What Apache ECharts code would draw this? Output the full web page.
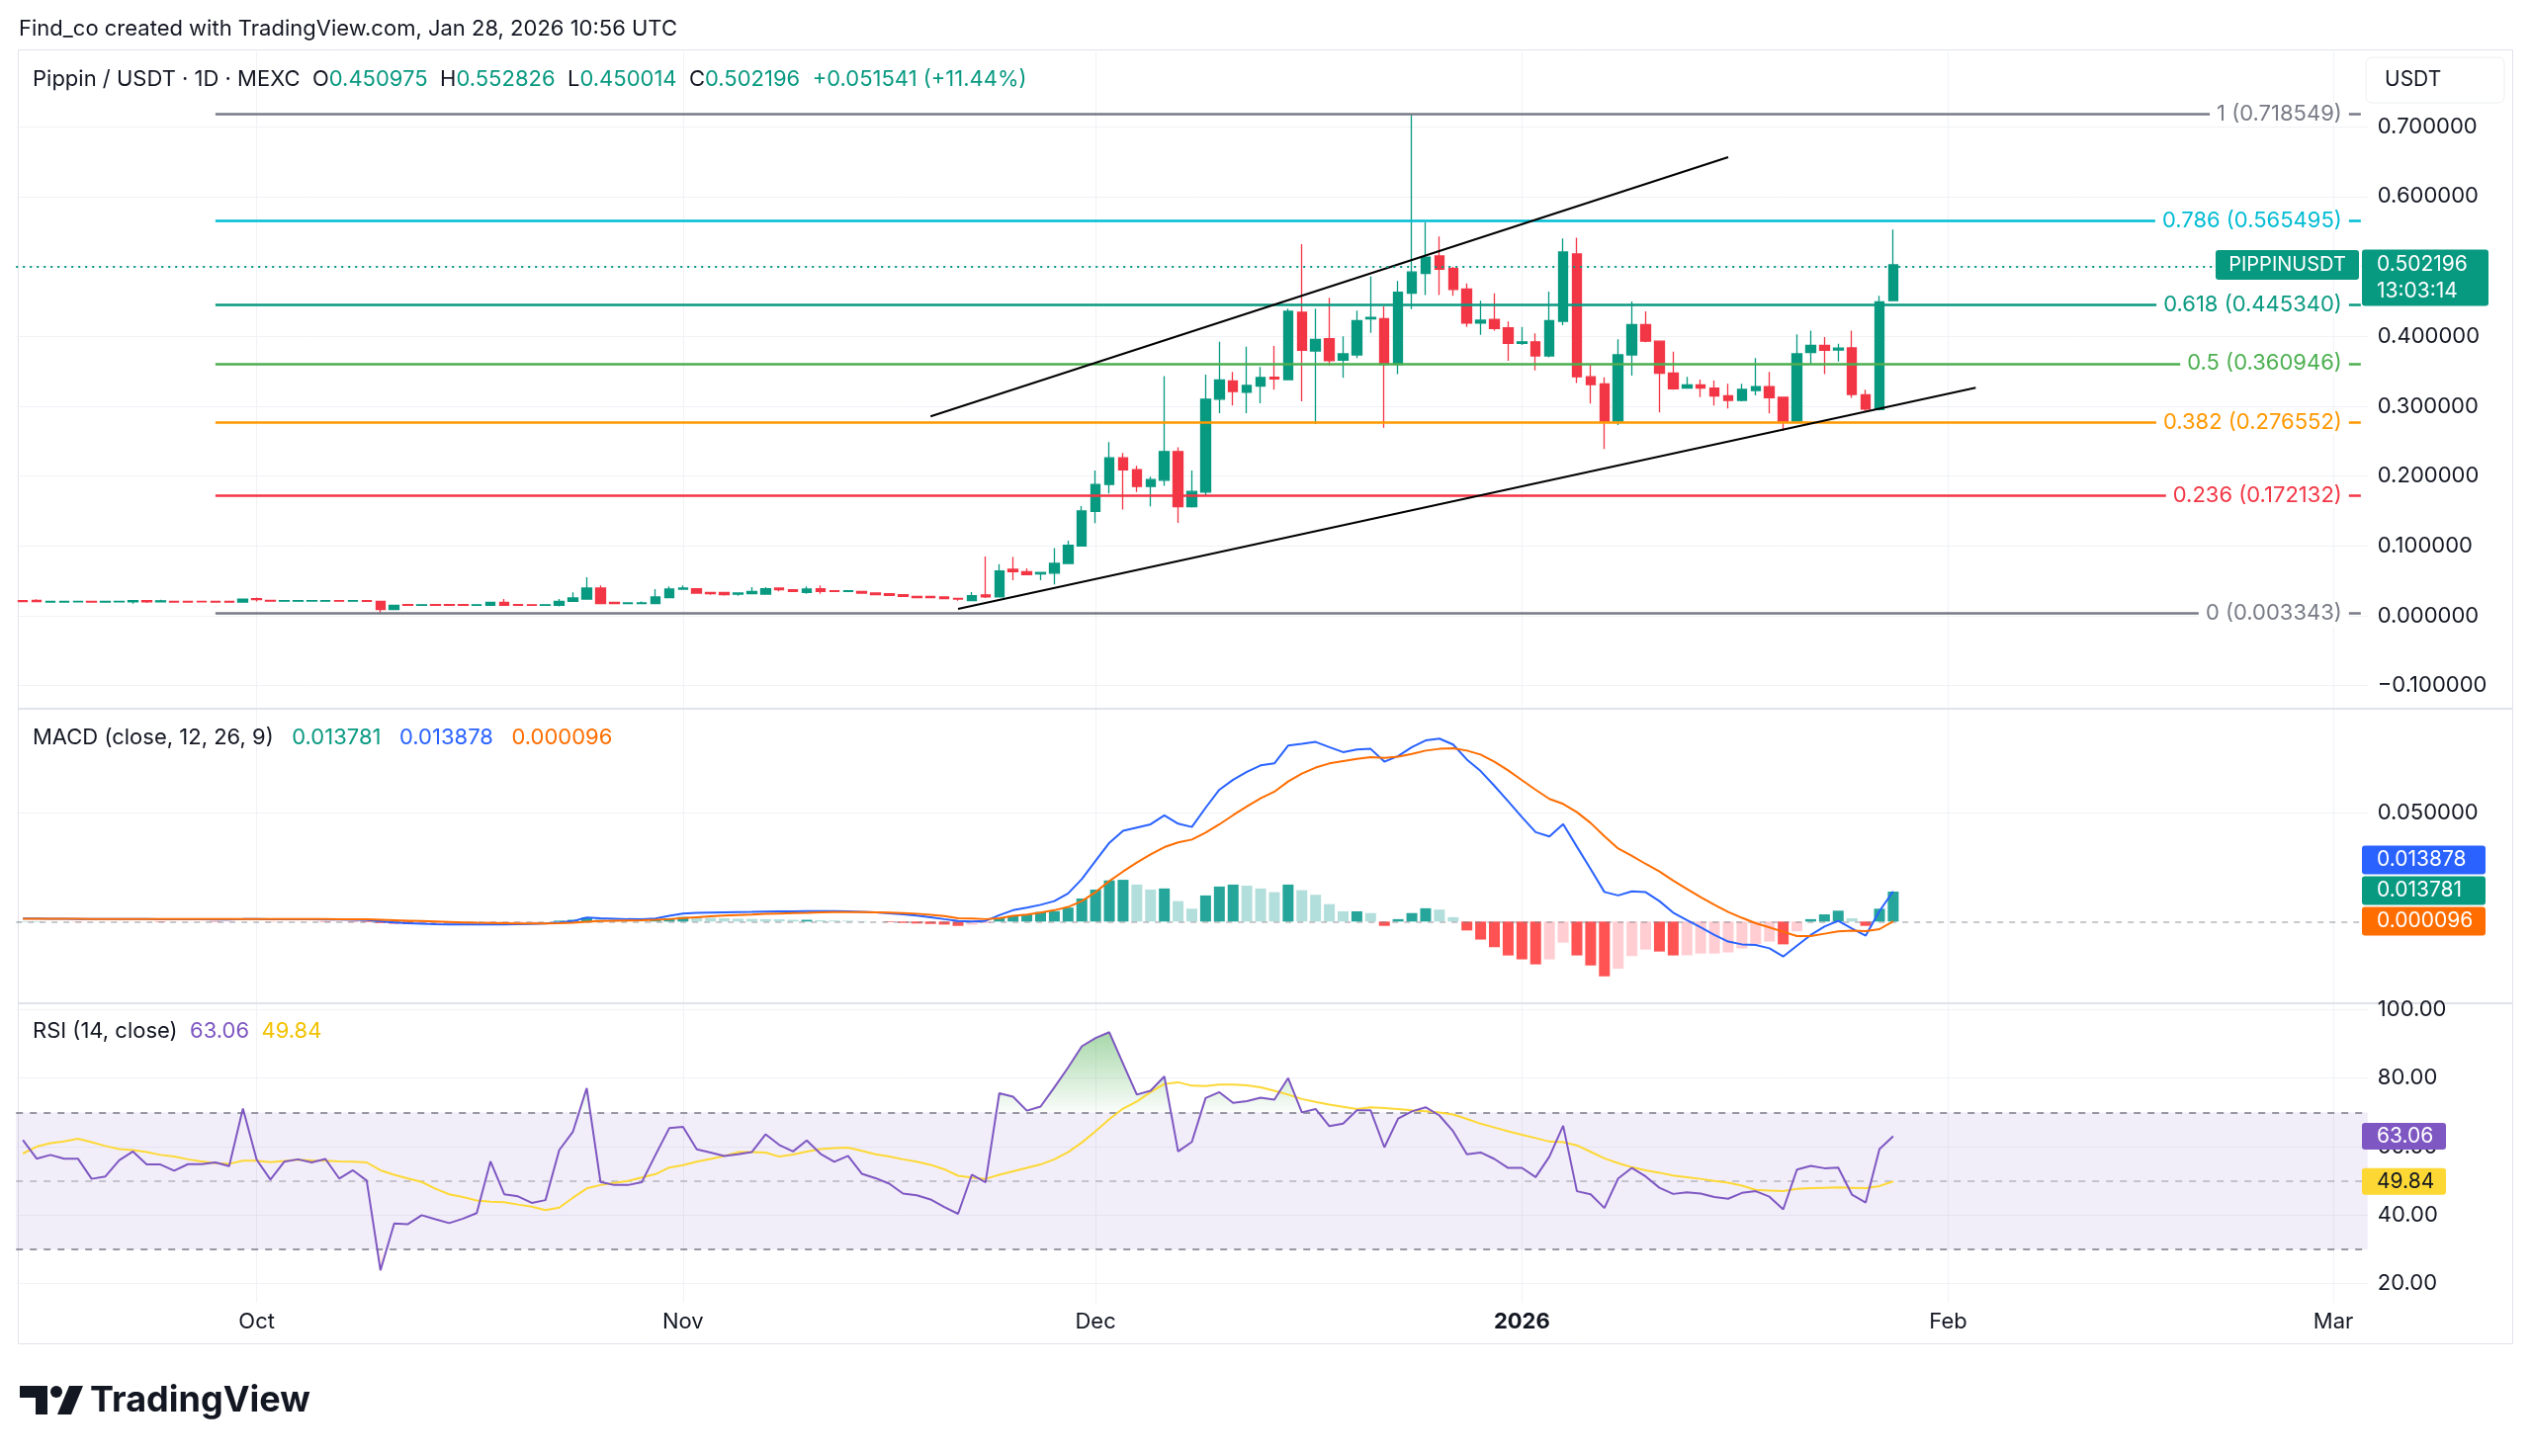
<!DOCTYPE html>
<html><head><meta charset="utf-8">
<script src="https://cdn.jsdelivr.net/npm/echarts@6/dist/echarts.min.js"></script>
<style>html,body{margin:0;padding:0;background:#fff;}#c{width:2560px;height:1473px;}</style>
</head><body><div id="c"></div>
<script>
// ---------------- DATA ----------------
const startDate = '2025-09-14';
const axisEndDate = '2026-03-03';
// daily candles [open, high, low, close] from 2025-09-14 to 2026-01-28
const candles = [
[0.0217,0.0222,0.0200,0.0205],[0.0222,0.0236,0.0200,0.0205],[0.0198,0.0210,0.0196,0.0208],[0.0198,0.0210,0.0196,0.0208],
[0.0199,0.0210,0.0197,0.0207],[0.0208,0.0210,0.0196,0.0198],[0.0198,0.0209,0.0196,0.0207],[0.0199,0.0209,0.0197,0.0208],
[0.0200,0.0222,0.0174,0.0217],[0.0217,0.0222,0.0184,0.0200],[0.0200,0.0231,0.0198,0.0214],[0.0208,0.0210,0.0196,0.0198],
[0.0207,0.0209,0.0196,0.0198],[0.0208,0.0210,0.0196,0.0199],[0.0207,0.0209,0.0197,0.0198],[0.0205,0.0208,0.0193,0.0195],
[0.0195,0.0245,0.0193,0.0240],// Sep30
[0.0245,0.0260,0.0205,0.0231],[0.0220,0.0224,0.0208,0.0210],[0.0210,0.0220,0.0207,0.0217],[0.0210,0.0219,0.0208,0.0217],
[0.0211,0.0220,0.0208,0.0218],[0.0210,0.0219,0.0207,0.0217],[0.0218,0.0220,0.0208,0.0210],[0.0210,0.0220,0.0208,0.0217],
[0.0217,0.0219,0.0206,0.0208],[0.0208,0.0213,0.0030,0.0090],[0.0090,0.0155,0.0085,0.0151],[0.0160,0.0163,0.0149,0.0151],
[0.0151,0.0160,0.0149,0.0158],[0.0160,0.0162,0.0149,0.0151],[0.0160,0.0161,0.0150,0.0152],[0.0159,0.0161,0.0149,0.0151],
[0.0151,0.0160,0.0150,0.0158],[0.0151,0.0196,0.0140,0.0193],[0.0193,0.0240,0.0149,0.0151],[0.0160,0.0165,0.0150,0.0151],
[0.0158,0.0160,0.0149,0.0151],[0.0151,0.0160,0.0140,0.0158],[0.0150,0.0240,0.0135,0.0208],[0.0208,0.0335,0.0205,0.0255],
[0.0240,0.0550,0.0238,0.0396],[0.0396,0.0434,0.0165,0.0174],[0.0193,0.0196,0.0168,0.0174],[0.0174,0.0186,0.0172,0.0184],
[0.0174,0.0205,0.0172,0.0184],[0.0174,0.0382,0.0172,0.0269],[0.0260,0.0420,0.0258,0.0382],// Oct31
[0.0382,0.0434,0.0372,0.0396],[0.0387,0.0396,0.0320,0.0325],[0.0335,0.0338,0.0300,0.0316],[0.0335,0.0338,0.0290,0.0302],
[0.0310,0.0330,0.0288,0.0325],[0.0316,0.0410,0.0314,0.0349],[0.0310,0.0410,0.0308,0.0387],[0.0396,0.0400,0.0349,0.0372],
[0.0372,0.0375,0.0345,0.0349],[0.0335,0.0420,0.0316,0.0382],[0.0387,0.0434,0.0316,0.0349],[0.0358,0.0362,0.0345,0.0349],
[0.0349,0.0362,0.0346,0.0358],[0.0349,0.0352,0.0322,0.0325],[0.0325,0.0328,0.0300,0.0302],[0.0316,0.0318,0.0290,0.0293],
[0.0302,0.0305,0.0276,0.0278],[0.0278,0.0280,0.0258,0.0260],[0.0278,0.0280,0.0258,0.0260],[0.0269,0.0271,0.0243,0.0245],
[0.0250,0.0255,0.0217,0.0240],[0.0217,0.0340,0.0215,0.0288],[0.0300,0.0850,0.0255,0.0270],[0.0270,0.0740,0.0260,0.0640],
[0.0665,0.0840,0.0510,0.0630],[0.0630,0.0680,0.0580,0.0590],[0.0600,0.0630,0.0510,0.0620],[0.0610,0.0970,0.0450,0.0750],
[0.0750,0.1075,0.0740,0.1010],[0.1000,0.1570,0.0990,0.1500],// Nov30
[0.1495,0.2080,0.1325,0.1880],[0.1880,0.2485,0.1750,0.2260],[0.2260,0.2330,0.1520,0.2090],[0.2090,0.2145,0.1770,0.1850],
[0.1850,0.1990,0.1565,0.1950],[0.1940,0.3430,0.1860,0.2350],[0.2350,0.2410,0.1330,0.1560],[0.1560,0.2080,0.1550,0.1780],
[0.1770,0.3450,0.1716,0.3100],[0.3100,0.3920,0.2900,0.3376],[0.3360,0.3490,0.3010,0.3210],[0.3200,0.3850,0.2900,0.3296],
[0.3286,0.3560,0.3040,0.3410],[0.3414,0.3860,0.3235,0.3390],[0.3380,0.4394,0.3370,0.4357],[0.4342,0.5320,0.3070,0.3800],
[0.3790,0.4394,0.2744,0.3956],[0.3965,0.4550,0.3580,0.3650],[0.3660,0.4000,0.3404,0.3750],[0.3734,0.4366,0.3687,0.4225],
[0.4248,0.4860,0.4050,0.4270],[0.4253,0.4427,0.2690,0.3600],[0.3600,0.4790,0.3460,0.4630],[0.4616,0.7185,0.4390,0.4920],
[0.4900,0.5630,0.4590,0.5134],[0.5150,0.5427,0.4590,0.4960],[0.4970,0.4993,0.4580,0.4670],[0.4677,0.4757,0.4135,0.4190],
[0.4190,0.4510,0.4020,0.4230],[0.4240,0.4616,0.4080,0.4110],[0.4120,0.4210,0.3650,0.3900],// Dec31
[0.3900,0.4135,0.3876,0.3920],[0.3920,0.4040,0.3510,0.3720],[0.3720,0.4640,0.3697,0.4225],[0.4215,0.5400,0.4160,0.5205],
[0.5177,0.5410,0.3330,0.3420],[0.3420,0.3600,0.3036,0.3310],[0.3320,0.3414,0.2386,0.2786],[0.2786,0.3956,0.2730,0.3734],
[0.3734,0.4498,0.3437,0.4168],[0.4168,0.4357,0.3915,0.3930],[0.3930,0.3940,0.2910,0.3470],[0.3475,0.3780,0.3235,0.3250],
[0.3260,0.3420,0.3250,0.3305],[0.3305,0.3380,0.3130,0.3260],[0.3258,0.3366,0.3010,0.3145],[0.3150,0.3320,0.2966,0.3083],
[0.3083,0.3320,0.3070,0.3240],[0.3225,0.3687,0.3154,0.3280],[0.3280,0.3490,0.2895,0.3120],[0.3126,0.3126,0.2645,0.2786],
[0.2786,0.4027,0.2777,0.3750],[0.3767,0.4080,0.3600,0.3870],[0.3870,0.3990,0.3460,0.3800],[0.3805,0.3894,0.3640,0.3830],
[0.3833,0.4080,0.3120,0.3168],[0.3164,0.3235,0.2930,0.2960],[0.2950,0.4578,0.2937,0.4494],[0.450975,0.552826,0.450014,0.502196]
];
const macdLine = [
0.0014,0.0014,0.0013,0.0013,0.0012,0.0011,0.0011,0.0011,0.0011,0.0011,0.0010,0.0010,0.0010,0.0010,0.0009,0.0009,0.0011,
0.0011,0.0010,0.0010,0.0010,0.0010,0.0009,0.0009,0.0008,0.0007,0.0001,
-0.0004,-0.0008,-0.0010,-0.0012,-0.0013,-0.0014,-0.0014,-0.0013,-0.0013,-0.0012,
-0.0011,-0.0009,-0.0004,0.0002,0.0018,0.0015,0.0013,0.0011,0.0010,0.0014,
0.0026,0.0037,0.0040,0.0041,0.0042,0.0043,0.0044,0.0046,0.0047,0.0047,
0.0048,0.0048,0.0048,0.0047,0.0045,0.0042,0.0038,0.0033,0.0027,0.0020,0.0011,
0.0003,0.0000,0.0003,0.0029,0.0052,0.0064,0.0077,0.0094,0.0129,0.0195,
0.0279,0.0362,0.0417,0.0432,0.0447,0.0488,0.0450,0.0435,0.0523,0.0606,
0.0652,0.0688,0.0718,0.0727,0.0809,0.0817,0.0826,0.0802,0.0779,0.0791,
0.0794,0.0735,0.0761,0.0802,0.0833,0.0841,0.0814,0.0745,0.0692,0.0624,
0.0553,0.0480,0.0411,0.0391,0.0448,0.0344,0.0241,0.0136,0.0120,0.0139,
0.0135,0.0094,0.0041,0.0006,-0.0027,-0.0062,-0.0092,-0.0105,-0.0108,-0.0123,
-0.0161,-0.0111,-0.0062,-0.0023,0.0003,-0.0032,-0.0065,0.0048,0.013878
];
const signalLine = [
0.0013,0.0013,0.0013,0.0013,0.0013,0.0012,0.0012,0.0012,0.0012,0.0012,0.0012,0.0011,0.0011,0.0011,0.0011,0.0011,0.0011,
0.0011,0.0011,0.0011,0.0011,0.0011,0.0011,0.0010,0.0010,0.0010,0.0008,
0.0006,0.0004,0.0002,0.0000,-0.0002,-0.0004,-0.0006,-0.0007,-0.0008,-0.0009,
-0.0009,-0.0009,-0.0008,-0.0006,-0.0001,0.0002,0.0004,0.0005,0.0006,0.0008,
0.0011,0.0016,0.0020,0.0024,0.0027,0.0030,0.0032,0.0035,0.0037,0.0039,
0.0040,0.0042,0.0043,0.0043,0.0043,0.0042,0.0041,0.0039,0.0036,0.0031,0.0025,
0.0015,0.0014,0.0011,0.0015,0.0026,0.0032,0.0041,0.0052,0.0067,0.0094,
0.0135,0.0186,0.0230,0.0271,0.0309,0.0342,0.0364,0.0377,0.0409,0.0447,
0.0489,0.0529,0.0567,0.0597,0.0644,0.0680,0.0708,0.0727,0.0738,0.0748,
0.0756,0.0753,0.0758,0.0771,0.0786,0.0794,0.0797,0.0786,0.0768,0.0735,
0.0695,0.0650,0.0606,0.0564,0.0541,0.0503,0.0453,0.0392,0.0336,0.0302,
0.0265,0.0230,0.0188,0.0150,0.0112,0.0077,0.0044,0.0017,-0.0008,-0.0027,
-0.0047,-0.0067,-0.0067,-0.0056,-0.0045,-0.0042,-0.0044,-0.0035,0.000096
];
const histogram = [
0.0001,0.0001,0.0000,0.0000,-0.0001,-0.0001,-0.0001,-0.0001,-0.0001,-0.0001,-0.0002,-0.0001,-0.0001,-0.0001,-0.0002,-0.0002,0.0000,
0.0000,-0.0001,-0.0001,-0.0001,-0.0001,-0.0002,-0.0001,-0.0002,-0.0003,-0.0007,
-0.0010,-0.0012,-0.0012,-0.0012,-0.0011,-0.0010,-0.0008,-0.0006,-0.0005,-0.0003,
-0.0002,0.0000,0.0004,0.0008,0.0019,0.0013,0.0009,0.0006,0.0004,0.0006,
0.0015,0.0021,0.0020,0.0017,0.0015,0.0013,0.0012,0.0011,0.0010,0.0008,
0.0008,0.0006,0.0005,0.0004,0.0002,0.0000,-0.0003,-0.0006,-0.0009,-0.0011,-0.0014,
-0.0020,-0.0015,-0.0008,0.0015,0.0026,0.0033,0.0044,0.0048,0.0064,0.0106,
0.0147,0.0189,0.0192,0.0170,0.0147,0.0152,0.0094,0.0059,0.0120,0.0161,
0.0170,0.0165,0.0152,0.0135,0.0170,0.0144,0.0123,0.0080,0.0047,0.0047,
0.0039,-0.0020,0.0011,0.0039,0.0061,0.0055,0.0020,-0.0041,-0.0083,-0.0118,
-0.0156,-0.0174,-0.0197,-0.0174,-0.0097,-0.0156,-0.0202,-0.0252,-0.0217,-0.0159,
-0.0129,-0.0138,-0.0156,-0.0155,-0.0147,-0.0147,-0.0142,-0.0124,-0.0103,-0.0092,
-0.0105,-0.0045,0.0011,0.0033,0.0050,0.0015,-0.0020,0.0059,0.013781
];
const rsiLine = [
61.9,56.5,57.6,56.5,56.5,50.6,51.3,56.0,58.6,54.8,54.8,53.0,54.9,54.9,55.4,54.3,71.1,
56.2,50.4,55.6,56.3,55.4,56.4,50.7,53.1,50.1,23.9,
37.6,37.4,40.0,38.8,37.7,39.0,40.6,55.7,46.1,45.5,
43.6,44.4,59.0,64.4,77.1,49.7,48.8,48.8,49.6,57.6,
65.4,65.8,59.2,58.3,57.3,57.8,58.4,63.6,60.5,58.6,
61.8,57.9,55.6,57.3,52.1,50.8,49.2,46.3,45.8,44.6,42.4,
40.4,51.8,49.6,75.6,74.6,70.5,71.7,77.3,83.1,89.3,
91.7,93.4,84.2,75.2,76.3,80.5,58.6,61.4,74.2,75.9,
72.8,73.3,74.3,73.7,80.0,70.0,71.0,66.0,66.7,70.6,
70.6,59.8,68.2,70.3,71.5,69.1,64.5,57.8,58.3,56.4,
53.8,53.8,51.1,57.1,66.1,47.0,46.1,42.1,50.7,53.8,
51.3,48.0,46.2,46.7,46.3,45.3,44.8,46.5,47.0,45.4,
41.7,53.3,54.4,53.7,53.9,46.0,43.7,59.3,63.06
];
const rsiMA = [
58.0,60.0,61.0,61.5,62.3,61.3,60.2,59.3,59.0,58.4,57.6,57.1,56.3,55.7,55.2,55.0,55.9,
55.9,55.5,55.8,56.2,56.0,55.9,55.7,55.6,55.4,53.1,
51.8,50.7,49.7,47.7,46.1,45.3,44.3,43.9,43.8,43.1,
42.5,41.5,42.2,45.1,47.8,48.8,49.4,50.0,51.0,52.0,
53.9,54.6,55.6,56.4,57.3,58.4,58.4,58.3,57.1,57.7,
58.6,59.3,59.6,59.7,58.8,57.8,57.1,56.3,55.6,54.7,53.4,
51.5,51.0,50.6,51.8,52.8,53.8,54.8,56.3,58.4,61.2,
64.5,68.0,71.1,73.2,75.9,78.3,78.8,77.8,77.7,78.1,
78.1,77.9,77.3,76.3,75.2,73.9,73.1,72.3,71.6,71.0,
71.5,71.3,71.0,70.6,70.3,70.0,69.4,68.1,66.7,65.6,
64.5,63.5,62.5,61.5,61.3,60.4,58.5,56.6,55.2,54.0,
53.1,52.4,51.6,51.1,50.6,50.0,49.5,48.6,47.4,47.2,
47.0,47.7,47.9,48.0,48.1,48.0,47.9,48.5,49.84
];
const priceTicks = [-0.1,0,0.1,0.2,0.3,0.4,0.5,0.6,0.7];
const macdTicks = [0.05];
const rsiTicks = [20,40,60,80,100];
const monthStarts = ['2025-10-01','2025-11-01','2025-12-01','2026-01-01','2026-02-01','2026-03-01'];
const monthLabels = ['Oct','Nov','Dec','2026','Feb','Mar'];
const fibRatios = ['1','0.786','0.618','0.5','0.382','0.236','0'];
const fibPrices = [0.718549,0.565495,0.445340,0.360946,0.276552,0.172132,0.003343];
const fibStart = '2025-09-28';
const upperChannel = [['2025-11-19',0.2853],['2026-01-16',0.6563]];
const lowerChannel = [['2025-11-21',0.0100],['2026-02-03',0.3263]];
const priceChange = '+0.051541 (+11.44%)';
const countdown = '13:03:14';

// ---------------- STYLE ----------------
const FONT = 'Inter, "Noto Sans", Roboto, sans-serif';
const TXT = '#131722';
const UP = '#089981', DOWN = '#f23645';
const GRIDC = '#f0f2f6';
const fibColors = ['#787b86','#00bcd4','#089981','#4caf50','#ff9800','#f23645','#787b86'];
const GL = 16.2, GW = 2378.6;
const HF = 22;

const dates = (function(){const out=[];let t=Date.parse(startDate+'T00:00:00Z');const e=Date.parse(axisEndDate+'T00:00:00Z');while(t<=e){out.push(new Date(t).toISOString().slice(0,10));t+=86400000;}return out;})();
const lastCat = dates[dates.length-1];
const last = candles[candles.length-1];
const lastClose = last[3];

const fmt6 = v => (v<0?'\u2212':'') + Math.abs(v).toFixed(6);
const rs = c => ({fontSize:HF, color:c, fontFamily:FONT, fontWeight:'normal', lineHeight:26});
const SP2 = '  ', SP3 = '   ';

function gridLines(ticks){
  return {silent:true, symbol:['none','none'], z:0.5, label:{show:false},
    lineStyle:{color:GRIDC, width:1, type:'solid'},
    data: ticks.map(v=>({yAxis:v})).concat(monthStarts.map(s=>({xAxis:s})))};
}
function xAx(i, showLabel){
  return {type:'category', gridIndex:i, data:dates, boundaryGap:true,
    axisLine:{show:false}, axisTick:{show:false}, splitLine:{show:false},
    axisLabel: showLabel ? {show:true, interval:(idx,val)=>monthStarts.indexOf(val)>=0,
      formatter:(val)=>{const k=monthStarts.indexOf(val);return k===3?'{b|'+monthLabels[k]+'}':monthLabels[k];},
      color:TXT, fontSize:22, fontFamily:FONT, margin:8, rich:{b:{fontWeight:'bold',fontSize:22,color:TXT,fontFamily:FONT}}} : {show:false}};
}
function yAx(i, min, max, ticks, f){
  return {type:'value', gridIndex:i, position:'right', min:min, max:max, scale:false,
    axisLine:{show:false}, axisTick:{show:false}, splitLine:{show:false},
    axisLabel:{show:true, customValues:ticks, formatter:f, color:TXT, fontSize:22, fontFamily:FONT, margin:10, align:'left'}};
}

const histData = histogram.map((v,i)=>{
  const p = i>0?histogram[i-1]:v;
  let c;
  if(v>=0) c = v>=p ? '#26a69a' : '#b2dfdb';
  else c = v<p ? '#ff5252' : '#ffcdd2';
  return {value:v, itemStyle:{color:c}};
});

const fibMarks = fibPrices.map((p,i)=>[
  {coord:[fibStart,p], lineStyle:{color:fibColors[i], width:2.5, type:'solid'},
   label:{show:true, position:'insideEnd', distance:12, formatter:fibRatios[i]+' ('+p.toFixed(6)+')',
     color:fibColors[i], fontSize:22, fontFamily:FONT, backgroundColor:'#ffffff', padding:[1,7]}},
  {coord:[lastCat,p]}
]);
const channelMarks = [upperChannel, lowerChannel].map(ch=>[
  {coord:ch[0], lineStyle:{color:'#000000', width:2, type:'solid'}, label:{show:false}},
  {coord:ch[1]}
]);

const option = {
  animation:false,
  backgroundColor:'#ffffff',
  textStyle:{fontFamily:FONT},
  title:[
    {text:'Find_co created with TradingView.com, Jan 28, 2026 10:56 UTC', left:19, top:16, padding:0,
     textStyle:{fontSize:HF, fontWeight:'normal', color:TXT, fontFamily:FONT, lineHeight:26}},
    {text:'{n|Pippin / USDT · 1D · MEXC}'+SP2+'{n|O}{v|'+last[0].toFixed(6)+'}'+SP2+'{n|H}{v|'+last[1].toFixed(6)+'}'+SP2+'{n|L}{v|'+last[2].toFixed(6)+'}'+SP2+'{n|C}{v|'+last[3].toFixed(6)+'}'+SP2+'{v|'+priceChange+'}',
     left:33, top:67, padding:0,
     textStyle:{fontWeight:'normal', fontSize:HF, rich:{n:rs(TXT), v:rs(UP)}}},
    {text:'{n|MACD (close, 12, 26, 9)}'+SP3+'{a|'+histogram[histogram.length-1].toFixed(6)+'}'+SP3+'{b|'+macdLine[macdLine.length-1].toFixed(6)+'}'+SP3+'{c|'+signalLine[signalLine.length-1].toFixed(6)+'}',
     left:33, top:733, padding:0,
     textStyle:{fontWeight:'normal', fontSize:HF, rich:{n:rs(TXT), a:rs('#089981'), b:rs('#2962ff'), c:rs('#ff6d00')}}},
    {text:'{n|RSI (14, close)}'+SP2+'{a|'+rsiLine[rsiLine.length-1].toFixed(2)+'}'+SP2+'{b|'+rsiMA[rsiMA.length-1].toFixed(2)+'}',
     left:33, top:1030, padding:0,
     textStyle:{fontWeight:'normal', fontSize:HF, rich:{n:rs(TXT), a:rs('#7e57c2'), b:rs('#f2c200')}}}
  ],
  grid:[
    {left:GL, width:GW, top:52, height:664},
    {left:GL, width:GW, top:718, height:296},
    {left:GL, width:GW, top:1016, height:302}
  ],
  xAxis:[xAx(0,false), xAx(1,false), xAx(2,true)],
  yAxis:[
    yAx(0, -0.13154, 0.80764, priceTicks, fmt6),
    yAx(1, -0.03714, 0.09741, macdTicks, fmt6),
    yAx(2, 14.43, 101.56, rsiTicks, v=>v.toFixed(2))
  ],
  series:[
    {type:'line', name:'gridP', xAxisIndex:0, yAxisIndex:0, data:[], z:0, markLine:gridLines(priceTicks)},
    {type:'candlestick', name:'price', xAxisIndex:0, yAxisIndex:0, z:3, barWidth:10,
     data:candles.map(r=>[r[0],r[3],r[2],r[1]]),
     itemStyle:{color:UP, color0:DOWN, borderColor:UP, borderColor0:DOWN, borderWidth:1.3}},
    {type:'line', name:'drawings', xAxisIndex:0, yAxisIndex:0, data:[], z:4,
     markLine:{silent:true, symbol:['none','none'], z:6, data:fibMarks.concat(channelMarks).concat([
       {yAxis:lastClose, lineStyle:{color:UP, width:2, type:[2,5]}, label:{show:false}}
     ])}},
    // MACD
    {type:'line', name:'gridM', xAxisIndex:1, yAxisIndex:1, data:[], z:0, markLine:gridLines(macdTicks)},
    {type:'bar', name:'hist', xAxisIndex:1, yAxisIndex:1, data:histData, barWidth:11, z:2,
     markLine:{silent:true, symbol:['none','none'], z:3, label:{show:false},
       data:[{yAxis:0, lineStyle:{color:'rgba(120,123,134,0.55)', width:1.5, type:[6,6]}}]}},
    {type:'line', name:'macd', xAxisIndex:1, yAxisIndex:1, data:macdLine, symbol:'none', z:4,
     lineStyle:{color:'#2962ff', width:2}},
    {type:'line', name:'signal', xAxisIndex:1, yAxisIndex:1, data:signalLine, symbol:'none', z:4,
     lineStyle:{color:'#ff6d00', width:2}},
    // RSI
    {type:'line', name:'gridR', xAxisIndex:2, yAxisIndex:2, data:[], z:0, markLine:gridLines(rsiTicks)},
    {type:'line', name:'band', xAxisIndex:2, yAxisIndex:2, data:[], z:1,
     markArea:{silent:true, z:1, itemStyle:{color:'rgba(126,87,194,0.1)'}, data:[[{yAxis:30},{yAxis:70}]]},
     markLine:{silent:true, symbol:['none','none'], z:1.5, label:{show:false},
       data:[{yAxis:70, lineStyle:{color:'#787b86', width:1.5, type:[7,7]}},
             {yAxis:50, lineStyle:{color:'rgba(120,123,134,0.5)', width:1.5, type:[7,7]}},
             {yAxis:30, lineStyle:{color:'#787b86', width:1.5, type:[7,7]}}]}},
    {type:'line', id:'rsiOB', xAxisIndex:2, yAxisIndex:2, data:rsiLine, symbol:'none', z:2,
     lineStyle:{opacity:0, width:0}, areaStyle:{origin:70, color:'rgba(0,0,0,0)'}},
    {type:'line', id:'rsiOS', xAxisIndex:2, yAxisIndex:2, data:rsiLine, symbol:'none', z:2,
     lineStyle:{opacity:0, width:0}, areaStyle:{origin:30, color:'rgba(0,0,0,0)'}},
    {type:'line', name:'rsiMA', xAxisIndex:2, yAxisIndex:2, data:rsiMA, symbol:'none', z:4,
     lineStyle:{color:'#fdd835', width:2}},
    {type:'line', name:'rsi', xAxisIndex:2, yAxisIndex:2, data:rsiLine, symbol:'none', z:5,
     lineStyle:{color:'#7e57c2', width:2}}
  ]
};

const chart = echarts.init(document.getElementById('c'), null, {renderer:'canvas', width:2560, height:1473});
chart.setOption(option);

// ---------- positions through the library's scales ----------
const py = v => chart.convertToPixel({yAxisIndex:0}, v);
const my = v => chart.convertToPixel({yAxisIndex:1}, v);
const ry = v => chart.convertToPixel({yAxisIndex:2}, v);

const G = echarts.graphic;
const obGrad = new G.LinearGradient(0, ry(95), 0, ry(70), [
  {offset:0, color:'rgba(76,175,80,0.75)'}, {offset:0.985, color:'rgba(76,175,80,0.05)'}, {offset:1, color:'rgba(76,175,80,0)'}], true);
const osGrad = new G.LinearGradient(0, ry(10), 0, ry(30), [
  {offset:0, color:'rgba(242,54,69,0.75)'}, {offset:0.985, color:'rgba(242,54,69,0.05)'}, {offset:1, color:'rgba(242,54,69,0)'}], true);

const AX = 2389;
function box(id, x, yc, w, h, fill, lines, tcol){
  const els = [{type:'rect', id:id+'r', z:50, shape:{x:x, y:yc-h/2, width:w, height:h, r:3}, style:{fill:fill}}];
  lines.forEach((t,k)=>els.push({type:'text', id:id+'t'+k, z:51, x:x+15, y:yc+k*27,
    style:{text:t, fill:tcol, font:'21px '+FONT, verticalAlign:'middle', align:'left'}}));
  return els;
}
let graphics = [];
graphics.push({type:'rect', id:'frame', z:0, silent:true, shape:{x:18.5, y:50.5, width:2523, height:1309}, style:{fill:'none', stroke:'#e0e3eb', lineWidth:1}});
graphics.push({type:'line', id:'sep1', z:0, shape:{x1:18, y1:717, x2:2542, y2:717}, style:{stroke:'#e0e3eb', lineWidth:2}});
graphics.push({type:'line', id:'sep2', z:0, shape:{x1:18, y1:1015, x2:2542, y2:1015}, style:{stroke:'#e0e3eb', lineWidth:2}});
graphics.push({type:'rect', id:'usdt', z:10, shape:{x:2393, y:58, width:140, height:46, r:6}, style:{fill:'#fff', stroke:'#eceef2', lineWidth:1}});
graphics.push({type:'text', id:'usdtT', z:11, x:2412, y:81, style:{text:'USDT', fill:TXT, font:'21px '+FONT, verticalAlign:'middle'}});
const yc = py(lastClose);
graphics.push({type:'rect', id:'symR', z:50, shape:{x:2241, y:yc-15, width:145, height:30, r:3}, style:{fill:UP}});
graphics.push({type:'text', id:'symT', z:51, x:2313.5, y:yc, style:{text:'PIPPINUSDT', fill:'#fff', font:'20px '+FONT, align:'center', verticalAlign:'middle'}});
graphics.push({type:'rect', id:'pxR', z:50, shape:{x:AX, y:yc-15.5, width:128, height:57, r:3}, style:{fill:UP}});
graphics.push({type:'text', id:'pxT1', z:51, x:2404, y:yc, style:{text:fmt6(lastClose), fill:'#fff', font:'21px '+FONT, verticalAlign:'middle'}});
graphics.push({type:'text', id:'pxT2', z:51, x:2404, y:yc+27, style:{text:countdown, fill:'#fff', font:'21px '+FONT, verticalAlign:'middle'}});
const H = 29;
let ySig = my(signalLine[signalLine.length-1]);
let yHist = Math.min(my(histogram[histogram.length-1]), ySig - H - 2);
let yMacd = Math.min(my(macdLine[macdLine.length-1]), yHist - H - 2);
graphics = graphics.concat(box('bm', AX, yMacd, 125, H, '#2962ff', [fmt6(macdLine[macdLine.length-1])], '#fff'));
graphics = graphics.concat(box('bh', AX, yHist, 125, H, '#089981', [fmt6(histogram[histogram.length-1])], '#fff'));
graphics = graphics.concat(box('bs', AX, ySig, 125, H, '#ff6d00', [fmt6(signalLine[signalLine.length-1])], '#fff'));
graphics = graphics.concat(box('br', AX, ry(rsiLine[rsiLine.length-1]), 85, 27, '#7e57c2', [rsiLine[rsiLine.length-1].toFixed(2)], '#fff'));
graphics = graphics.concat(box('ba', AX, ry(rsiMA[rsiMA.length-1]), 85, 27, '#fdd835', [rsiMA[rsiMA.length-1].toFixed(2)], TXT));
graphics.push({type:'polygon', id:'lg1', z:10, shape:{points:[[20,1402],[48,1402],[48,1431],[36,1431],[36,1414],[20,1414]]}, style:{fill:TXT}});
graphics.push({type:'circle', id:'lg2', z:10, shape:{cx:57, cy:1408, r:6}, style:{fill:TXT}});
graphics.push({type:'polygon', id:'lg3', z:10, shape:{points:[[70,1402],[84,1402],[72,1431],[58,1431]]}, style:{fill:TXT}});
graphics.push({type:'text', id:'lgT', z:10, x:91, y:1417, style:{text:'TradingView', fill:TXT, font:'bold 36px '+FONT, verticalAlign:'middle'}});

chart.setOption({
  graphic: graphics,
  series:[{id:'rsiOB', areaStyle:{origin:70, color:obGrad}}, {id:'rsiOS', areaStyle:{origin:30, color:osGrad}}]
});
</script>
</body></html>
